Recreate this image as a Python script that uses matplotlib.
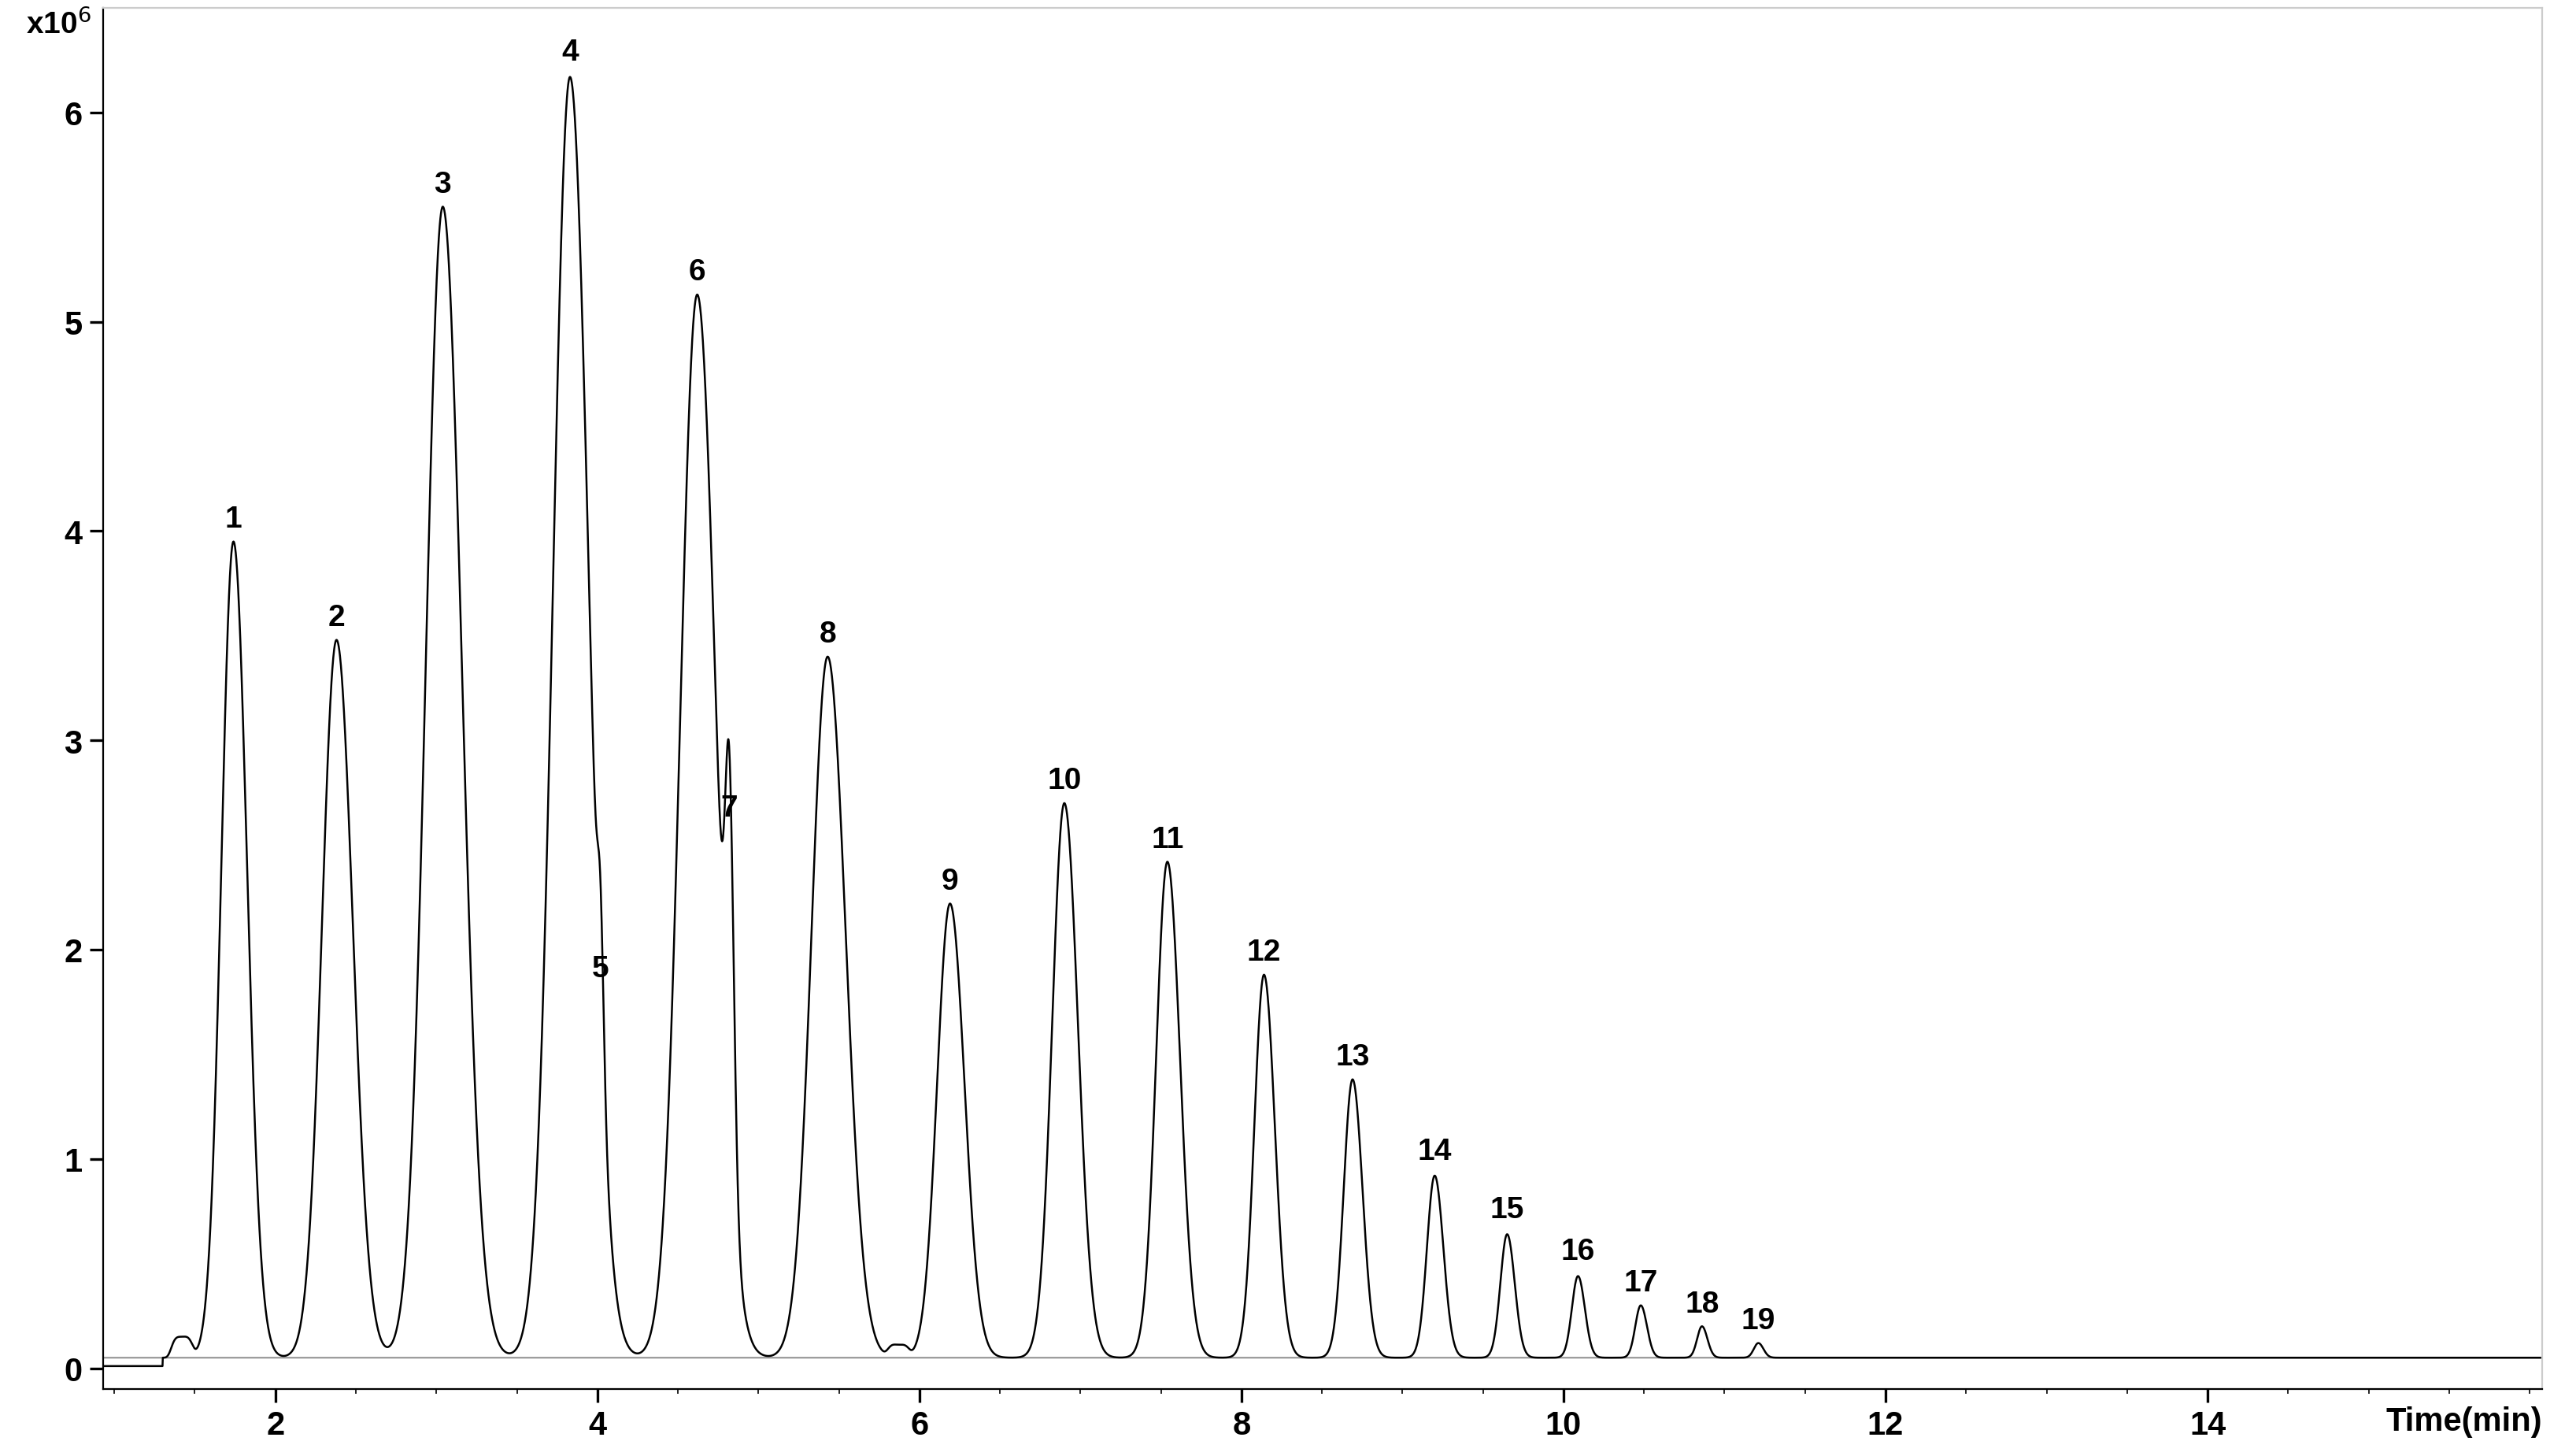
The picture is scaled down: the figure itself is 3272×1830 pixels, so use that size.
import numpy as np
import matplotlib.pyplot as plt

plt.rcParams['font.family'] = ['Liberation Sans', 'DejaVu Sans']

# peak data: retention time (min), height (x10^6), width (min)
peak_labels = [str(i) for i in range(1, 20)]
peak_times = [1.74, 2.38, 3.04, 3.83, 4.02, 4.62, 4.82, 5.43, 6.19, 6.90,
              7.54, 8.14, 8.69, 9.20, 9.65, 10.09, 10.48, 10.86, 11.21]
peak_heights = [3.90, 3.43, 5.50, 6.12, 0.60, 5.08, 1.70, 3.35, 2.17, 2.65,
                2.37, 1.83, 1.33, 0.87, 0.59, 0.39, 0.25, 0.15, 0.07]
peak_widths = [0.075, 0.090, 0.105, 0.105, 0.018, 0.105, 0.025, 0.100, 0.080, 0.075,
               0.070, 0.060, 0.055, 0.048, 0.042, 0.038, 0.034, 0.030, 0.028]
label_heights = [3.95, 3.48, 5.55, 6.18, 1.80, 5.13, 2.57, 3.40, 2.22, 2.70,
                 2.42, 1.88, 1.38, 0.93, 0.65, 0.45, 0.30, 0.20, 0.12]
small_times = [1.42, 5.87]
small_heights = [0.10, 0.06]

t = np.linspace(0.93, 16.08, 8000)
sig = np.where(t < 1.3, 0.01, 0.05)
for tt, h, w in zip(peak_times, peak_heights, peak_widths):
    # slight tailing: wider on the right side
    ww = np.where(t > tt, 1.12 * w, w)
    sig = sig + h * np.exp(-0.5 * ((t - tt) / ww) ** 2)
for tt, h in zip(small_times, small_heights):
    sig = sig + h * np.exp(-0.5 * ((t - tt) / 0.06) ** 4)

fig = plt.figure(figsize=(16.36, 9.155), dpi=200)
ax = fig.add_axes([0.040, 0.036, 0.947, 0.958])
ax.plot(t, np.full_like(t, 0.05), color='#999999', lw=0.8)
ax.plot(t, sig, color='black', lw=0.9)

for lab, tt, lh in zip(peak_labels, peak_times, label_heights):
    ax.text(tt, lh + 0.04, lab, ha='center', va='bottom', fontsize=14, fontweight='bold')

ax.set_xlim(0.93, 16.08)
ax.set_ylim(-0.1, 6.5)
ax.set_xticks([2, 4, 6, 8, 10, 12, 14])
ax.set_xticks(np.arange(1, 16.01, 0.5), minor=True)
ax.set_yticks(range(7))
ax.tick_params(labelsize=15, width=1.2, length=6)
for lbl in ax.get_xticklabels() + ax.get_yticklabels():
    lbl.set_fontweight('bold')
for s in ['top', 'right']:
    ax.spines[s].set_color('#cccccc')
ax.text(-0.005, 1.0, r'x10$^6$', transform=ax.transAxes, ha='right', va='top',
        fontsize=14, fontweight='bold')
ax.text(1.0, -0.012, 'Time(min)', transform=ax.transAxes, ha='right', va='top',
        fontsize=15, fontweight='bold')
fig.savefig('out.png', dpi=200)
